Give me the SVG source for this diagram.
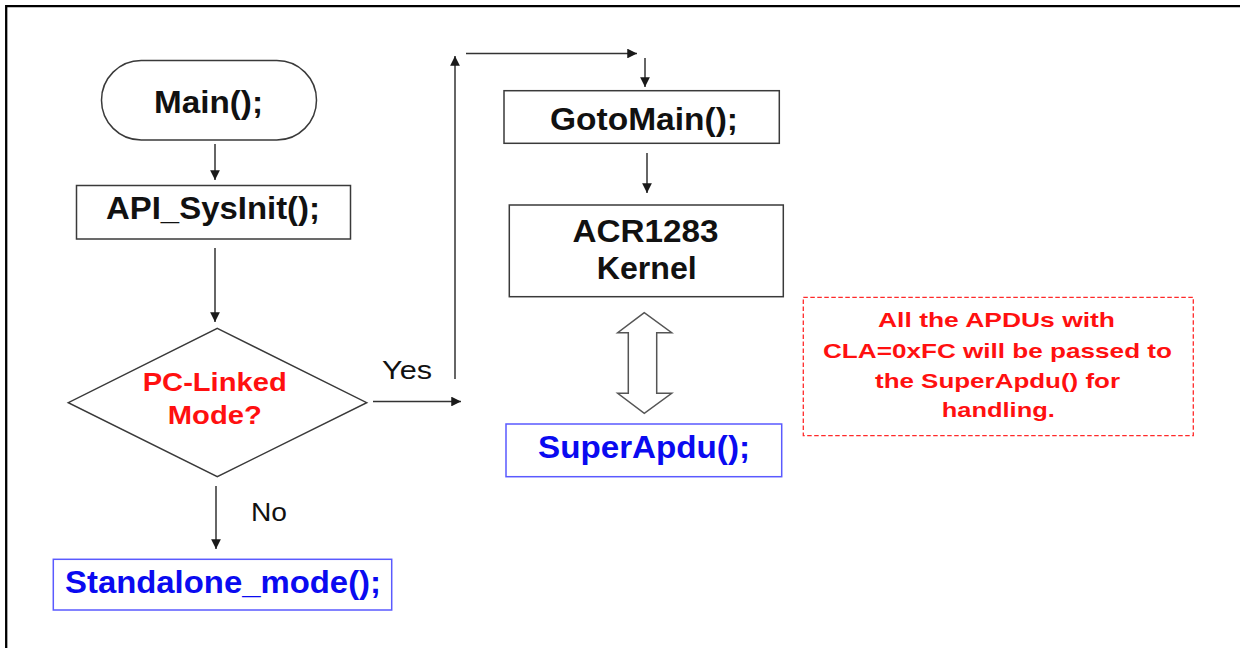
<svg xmlns="http://www.w3.org/2000/svg" width="1240" height="648" viewBox="0 0 1240 648">
  <style>
    .box { fill: #ffffff; stroke: #3a3a3a; stroke-width: 1.5; }
    .bluebox { fill: #ffffff; stroke: #5a5aff; stroke-width: 1.5; }
    .note { fill: #ffffff; stroke: #ff2a2a; stroke-width: 1.3; stroke-dasharray: 4.5 2.5; }
    .lbl { font-family: "Liberation Sans", Arial, sans-serif; font-weight: bold; text-anchor: middle; }
    .big { font-size: 32px; fill: #111111; }
    .blue { font-size: 32px; fill: #0a0af0; }
    .red { font-size: 26.5px; fill: #ff1010; }
    .edge { font-family: "Liberation Sans", Arial, sans-serif; font-size: 26.5px; fill: #111111; }
    .notetxt { font-size: 20.5px; fill: #ff1010; }
    .conn { fill: none; stroke: #333333; stroke-width: 1.5; }
  </style>
  <defs>
    <marker id="arrow" viewBox="0 0 10 10" refX="10" refY="5" markerWidth="6.5" markerHeight="6.5" markerUnits="strokeWidth" orient="auto">
      <path d="M0,0 L10,5 L0,10 z" fill="#1a1a1a"/>
    </marker>
  </defs>

  <rect width="1240" height="648" fill="#ffffff"/>
  <!-- page frame (left and top edges) -->
  <path d="M6.2,648 V6.2 H1240" fill="none" stroke="#000000" stroke-width="2.3"/>

  <!-- connectors -->
  <g id="connectors">
    <line class="conn" x1="215" y1="144" x2="215" y2="180" marker-end="url(#arrow)"/>
    <line class="conn" x1="215" y1="248" x2="215" y2="322" marker-end="url(#arrow)"/>
    <line class="conn" x1="373" y1="401.5" x2="461" y2="401.5" marker-end="url(#arrow)"/>
    <line class="conn" x1="455" y1="379" x2="455" y2="56" marker-end="url(#arrow)"/>
    <line class="conn" x1="466" y1="53.5" x2="637" y2="53.5" marker-end="url(#arrow)"/>
    <line class="conn" x1="645" y1="58" x2="645" y2="87" marker-end="url(#arrow)"/>
    <line class="conn" x1="647" y1="153" x2="647" y2="193" marker-end="url(#arrow)"/>
    <line class="conn" x1="216" y1="486" x2="216" y2="549" marker-end="url(#arrow)"/>
    <!-- two-way hollow arrow between kernel and SuperApdu -->
    <polygon points="644.3,312.7 617.7,332.7 628.3,332.7 628.3,393.3 617.7,393.3 644.3,413.3 671.7,393.3 656.7,393.3 656.7,332.7 671.7,332.7" fill="#ffffff" stroke="#555555" stroke-width="1.5" stroke-linejoin="miter"/>
    <text class="edge" x="382" y="379" textLength="50" lengthAdjust="spacingAndGlyphs">Yes</text>
    <text class="edge" x="251" y="520.5" textLength="36" lengthAdjust="spacingAndGlyphs">No</text>
  </g>

  <g id="main">
    <rect class="box" x="101.5" y="60.5" width="215" height="79.5" rx="39.75" ry="39.75"/>
    <text class="lbl big" x="208.5" y="112.7" textLength="109" lengthAdjust="spacingAndGlyphs">Main();</text>
  </g>

  <g id="sysinit">
    <rect class="box" x="76.5" y="185.5" width="274" height="53.5"/>
    <text class="lbl big" x="213" y="218.5" textLength="214" lengthAdjust="spacingAndGlyphs">API_SysInit();</text>
  </g>

  <g id="decision">
    <polygon class="box" points="217.3,328.3 366.7,402.7 217.3,476.7 68.3,402.7"/>
    <text class="lbl red" x="214.7" y="390.7" textLength="144" lengthAdjust="spacingAndGlyphs">PC-Linked</text>
    <text class="lbl red" x="214.8" y="424.3" textLength="94" lengthAdjust="spacingAndGlyphs">Mode?</text>
  </g>

  <g id="standalone">
    <rect class="bluebox" x="53.3" y="559.3" width="338.4" height="50.7"/>
    <text class="lbl blue" x="223" y="593.3" textLength="316" lengthAdjust="spacingAndGlyphs">Standalone_mode();</text>
  </g>

  <g id="gotomain">
    <rect class="box" x="504" y="90.7" width="275.3" height="52.6"/>
    <text class="lbl big" x="644" y="130" textLength="188" lengthAdjust="spacingAndGlyphs">GotoMain();</text>
  </g>

  <g id="kernel">
    <rect class="box" x="509.3" y="205" width="274" height="91.7"/>
    <text class="lbl big" x="645.5" y="241.7" textLength="146" lengthAdjust="spacingAndGlyphs">ACR1283</text>
    <text class="lbl big" x="646.7" y="279.3" textLength="100" lengthAdjust="spacingAndGlyphs">Kernel</text>
  </g>

  <g id="superapdu">
    <rect class="bluebox" x="506" y="424" width="275.7" height="52.7"/>
    <text class="lbl blue" x="644" y="457.5" textLength="212" lengthAdjust="spacingAndGlyphs">SuperApdu();</text>
  </g>

  <g id="note">
    <rect class="note" x="803.3" y="297.3" width="390" height="138.4"/>
    <text class="lbl notetxt" x="996.5" y="327" textLength="237" lengthAdjust="spacingAndGlyphs">All the APDUs with</text>
    <text class="lbl notetxt" x="997.5" y="358" textLength="349" lengthAdjust="spacingAndGlyphs">CLA=0xFC will be passed to</text>
    <text class="lbl notetxt" x="997.5" y="387.5" textLength="245" lengthAdjust="spacingAndGlyphs">the SuperApdu() for</text>
    <text class="lbl notetxt" x="998.3" y="417" textLength="113" lengthAdjust="spacingAndGlyphs">handling.</text>
  </g>
</svg>
